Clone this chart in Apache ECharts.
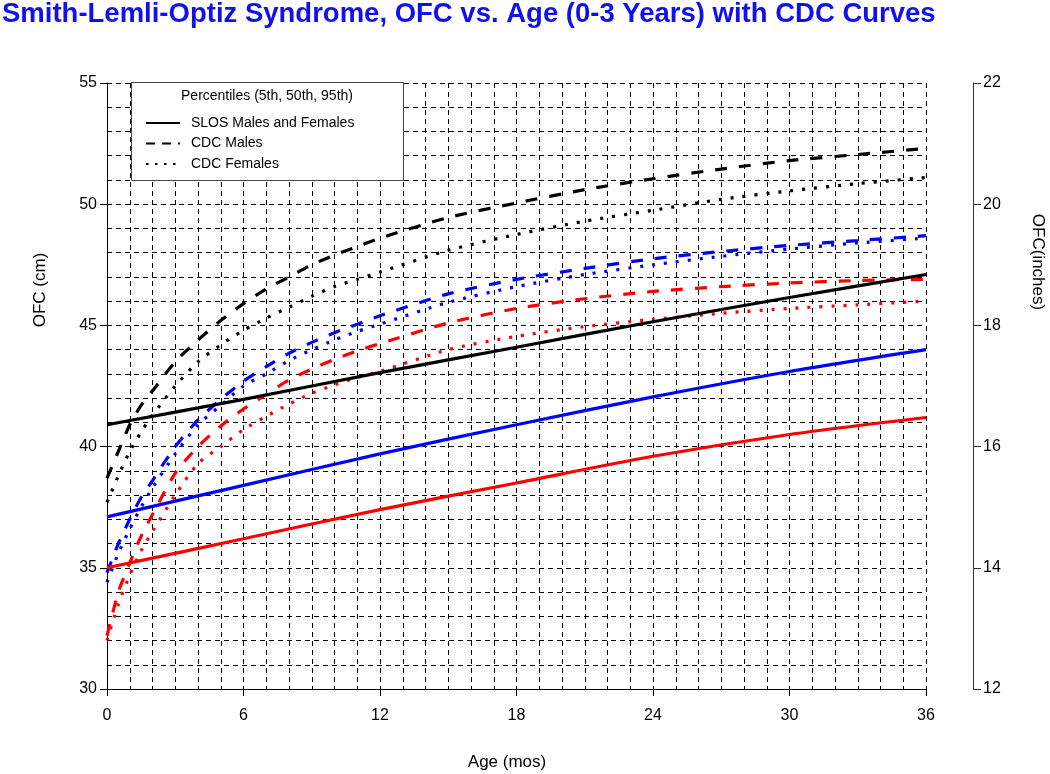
<!DOCTYPE html>
<html>
<head>
<meta charset="utf-8">
<script src="https://cdn.jsdelivr.net/npm/echarts@6/dist/echarts.min.js"></script>
<style>
html,body{margin:0;padding:0;background:#fff;}
#chart{width:1050px;height:774px;}
</style>
</head>
<body>
<div id="chart"></div>
<script>
// ---- Data ----
const titleText = 'Smith-Lemli-Optiz Syndrome, OFC vs. Age (0-3 Years) with CDC Curves';
const xTicks = [0, 6, 12, 18, 24, 30, 36];
const cmTicks = [30, 35, 40, 45, 50, 55];
const inchTicks = [12, 14, 16, 18, 20, 22];

// SLOS males and females (solid)
const slosMonths = [0, 6, 12, 18, 24, 30, 36];
const slos95 = [40.9, 41.95, 43.05, 44.1, 45.15, 46.15, 47.1];
const slos50 = [37.1, 38.4, 39.7, 40.9, 42.05, 43.1, 44.0];
const slos5  = [35.0, 36.2, 37.4, 38.5, 39.6, 40.5, 41.2];

// CDC curves
const cdcMonths = [0, 0.5, 1, 1.5, 2, 3, 4, 5, 6, 7, 8, 9, 10, 11, 12, 15, 18, 21, 24, 27, 30, 33, 36];
const cdcMale95 = [38.7, 39.8, 40.9, 41.7, 42.3, 43.5, 44.4, 45.2, 45.9, 46.5, 47.0, 47.5, 47.9, 48.25, 48.6, 49.45, 50.05, 50.6, 51.05, 51.45, 51.8, 52.05, 52.3];
const cdcMale50 = [34.8, 36.0, 37.0, 37.9, 38.6, 40.0, 41.1, 41.95, 42.7, 43.3, 43.85, 44.3, 44.7, 45.05, 45.4, 46.3, 46.9, 47.35, 47.75, 48.05, 48.3, 48.5, 48.7];
const cdcMale5  = [32.2, 34.0, 35.2, 36.3, 37.2, 38.9, 40.0, 40.85, 41.55, 42.15, 42.75, 43.2, 43.6, 43.95, 44.25, 45.1, 45.7, 46.1, 46.4, 46.6, 46.75, 46.85, 46.9];
const cdcFemale95 = [37.7, 38.8, 39.8, 40.6, 41.3, 42.5, 43.5, 44.2, 44.8, 45.3, 45.75, 46.2, 46.6, 46.9, 47.2, 48.1, 48.75, 49.3, 49.75, 50.2, 50.55, 50.85, 51.1];
const cdcFemale50 = [34.4, 35.6, 36.6, 37.5, 38.3, 39.7, 40.9, 41.7, 42.5, 43.0, 43.55, 44.0, 44.4, 44.75, 45.05, 45.95, 46.6, 47.1, 47.5, 47.85, 48.15, 48.4, 48.6];
const cdcFemale5  = [32.0, 33.5, 34.7, 35.7, 36.5, 38.0, 39.3, 40.0, 40.7, 41.25, 41.75, 42.2, 42.55, 42.85, 43.1, 44.0, 44.55, 44.95, 45.25, 45.5, 45.7, 45.85, 46.0];

const legendNames = ['SLOS Males and Females', 'CDC Males', 'CDC Females'];
const legendTitle = 'Percentiles (5th, 50th, 95th)';

// ---- Styles ----
const FONT = 'Liberation Sans, Arial, sans-serif';
const DASH = [12, 12];
const DOT = [3, 9];
const GRIDDASH = [5, 4];

function pairs(xs, ys) { return xs.map((x, i) => [x, ys[i]]); }

function lineSeries(name, xs, ys, color, type) {
  return {
    type: 'line', name: name, data: pairs(xs, ys),
    showSymbol: false, symbol: 'none', smooth: 0.25,
    lineStyle: { color: color, width: 3.2, type: type, cap: 'butt' },
    itemStyle: { color: color },
    silent: true, z: 3
  };
}

const series = [
  lineSeries('m95', cdcMonths, cdcMale95, '#000000', DASH),
  lineSeries('m50', cdcMonths, cdcMale50, '#0000ff', DASH),
  lineSeries('m5',  cdcMonths, cdcMale5,  '#ff0000', DASH),
  lineSeries('f95', cdcMonths, cdcFemale95, '#000000', DOT),
  lineSeries('f50', cdcMonths, cdcFemale50, '#0000ff', DOT),
  lineSeries('f5',  cdcMonths, cdcFemale5,  '#ff0000', DOT),
  lineSeries('s95', slosMonths, slos95, '#000000', 'solid'),
  lineSeries('s50', slosMonths, slos50, '#0000ff', 'solid'),
  lineSeries('s5',  slosMonths, slos5,  '#ff0000', 'solid'),
  // legend-only entries
  { type: 'line', name: legendNames[0], data: [], symbol: 'none', showSymbol: false, lineStyle: { color: '#000', width: 2, type: 'solid' }, itemStyle: { color: 'transparent', borderColor: 'transparent', borderWidth: 0 } },
  { type: 'line', name: legendNames[1], data: [], symbol: 'none', showSymbol: false, lineStyle: { color: '#000', width: 2.5, type: [9, 7] }, itemStyle: { color: 'transparent', borderColor: 'transparent', borderWidth: 0 } },
  { type: 'line', name: legendNames[2], data: [], symbol: 'none', showSymbol: false, lineStyle: { color: '#000', width: 2.5, type: [2.5, 6.5] }, itemStyle: { color: 'transparent', borderColor: 'transparent', borderWidth: 0 } }
];

const chart = echarts.init(document.getElementById('chart'), null, { renderer: 'canvas' });
chart.setOption({
  animation: false,
  backgroundColor: '#ffffff',
  title: {
    text: titleText, left: 2, top: 0, padding: 0,
    textStyle: { fontFamily: FONT, fontSize: 27.5, fontWeight: 'bold', color: '#1010f0' }
  },
  grid: { left: 107, right: 124, top: 83, bottom: 85, containLabel: false },
  xAxis: {
    type: 'value', min: 0, max: 36, interval: 6,
    axisLine: { show: true, lineStyle: { color: '#000', width: 1 } },
    axisTick: { show: true, length: 7, inside: false, lineStyle: { color: '#000' } },
    axisLabel: { fontFamily: FONT, fontSize: 16, color: '#000', margin: 19 },
    splitLine: { show: true, lineStyle: { color: '#000', width: 1, type: GRIDDASH } },
    minorTick: { show: false, splitNumber: 6 },
    minorSplitLine: { show: true, lineStyle: { color: '#000', width: 1, type: GRIDDASH } }
  },
  yAxis: [
    {
      type: 'value', min: 30, max: 55, interval: 5, position: 'left',
      axisLine: { show: true, lineStyle: { color: '#000', width: 1 } },
      axisTick: { show: true, length: 7, lineStyle: { color: '#000' } },
      axisLabel: { fontFamily: FONT, fontSize: 16, color: '#000', margin: 10 },
      splitLine: { show: true, lineStyle: { color: '#000', width: 1, type: GRIDDASH } },
      minorTick: { show: false, splitNumber: 5 },
      minorSplitLine: { show: true, lineStyle: { color: '#000', width: 1, type: GRIDDASH } }
    },
    {
      type: 'value', min: 12, max: 22, interval: 2, position: 'right', offset: 47,
      axisLine: { show: true, lineStyle: { color: '#333', width: 1 } },
      axisTick: { show: true, length: 8, lineStyle: { color: '#333' } },
      axisLabel: { fontFamily: FONT, fontSize: 16, color: '#000', margin: 10 },
      splitLine: { show: false }
    }
  ],
  legend: {
    data: legendNames, z: 20,
    orient: 'vertical', left: 140, top: 111,
    itemWidth: 34, itemHeight: 14, itemGap: 6.5,
    selectedMode: false,
    itemStyle: { color: 'transparent', borderColor: 'transparent', borderWidth: 0, opacity: 0 },
    textStyle: { fontFamily: FONT, fontSize: 14, color: '#000', padding: [0, 0, 0, 6] }
  },
  graphic: [
    { type: 'rect', shape: { x: 131.5, y: 82.5, width: 272, height: 98 },
      style: { fill: '#fff', stroke: '#444', lineWidth: 1 }, z: 5, silent: true },
    { type: 'text', x: 267, y: 96, z: 6, silent: true,
      style: { text: legendTitle, textAlign: 'center', textVerticalAlign: 'middle', font: '14px ' + FONT, fill: '#000' } },
    { type: 'text', x: 40, y: 290, rotation: Math.PI / 2, silent: true,
      style: { text: 'OFC (cm)', textAlign: 'center', textVerticalAlign: 'middle', font: '17px ' + FONT, fill: '#000' } },
    { type: 'text', x: 1038, y: 262, rotation: -Math.PI / 2, silent: true,
      style: { text: 'OFC(inches)', textAlign: 'center', textVerticalAlign: 'middle', font: '17px ' + FONT, fill: '#000' } },
    { type: 'text', x: 507, y: 762, silent: true,
      style: { text: 'Age (mos)', textAlign: 'center', textVerticalAlign: 'middle', font: '17px ' + FONT, fill: '#000' } }
  ],
  series: series
});
</script>
</body>
</html>
